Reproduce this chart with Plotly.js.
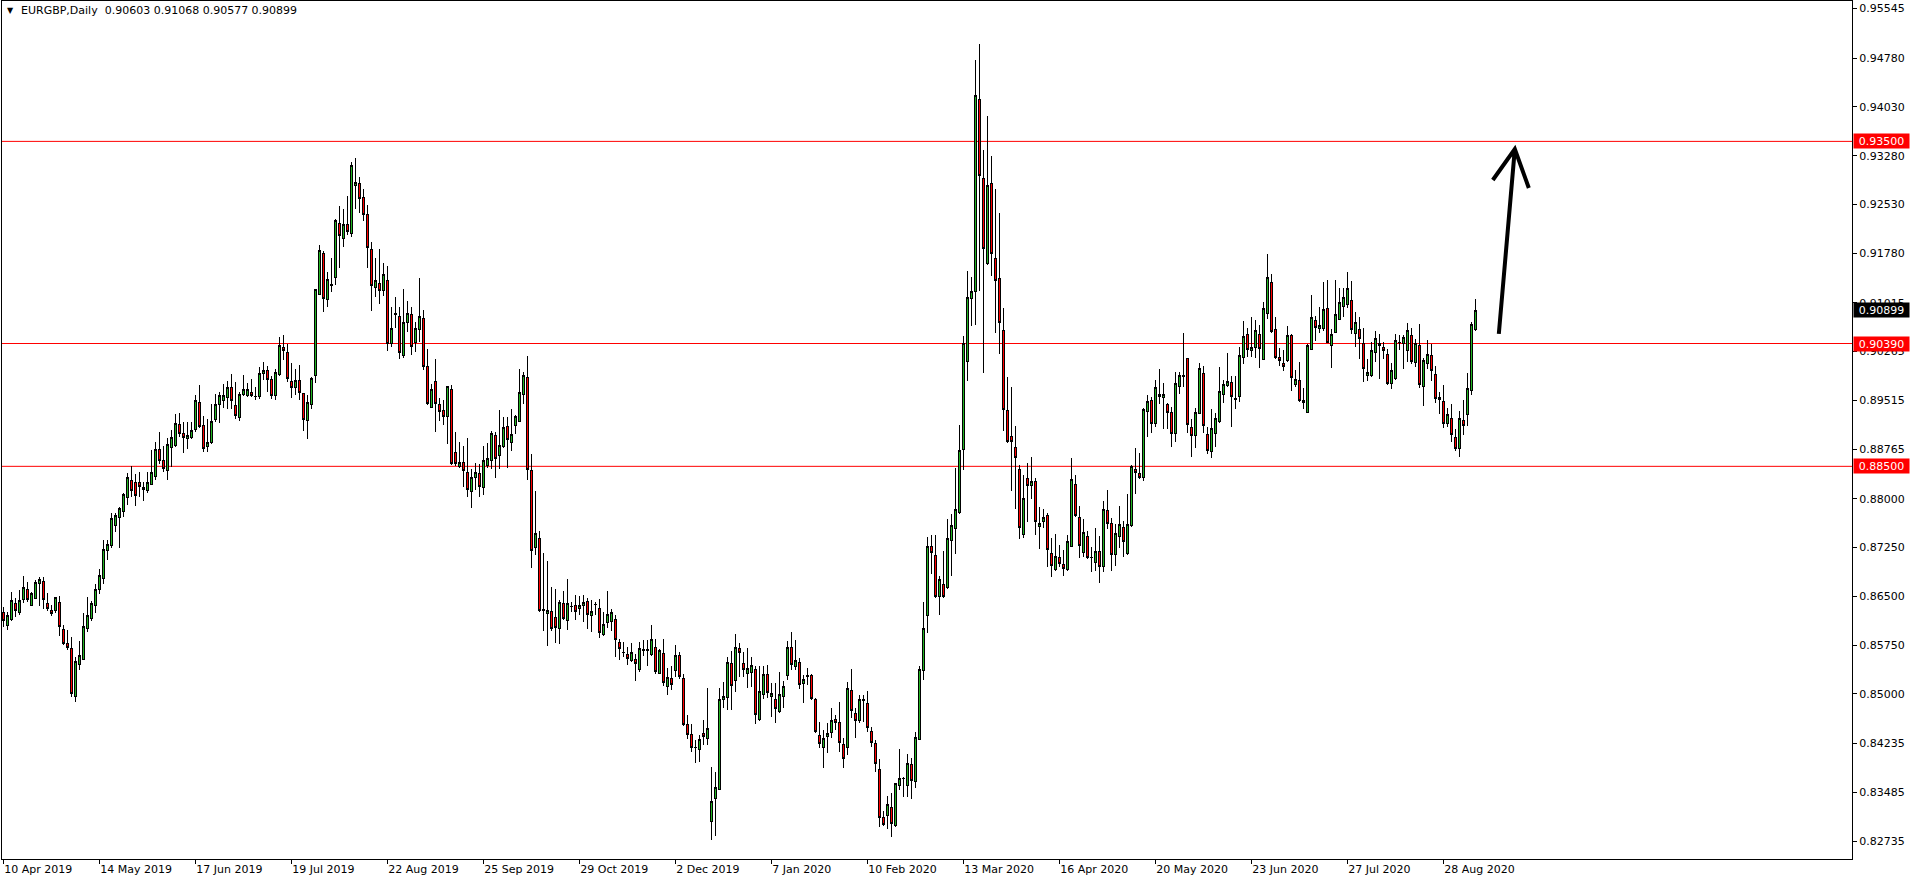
<!DOCTYPE html>
<html>
<head>
<meta charset="utf-8">
<script src="https://cdn.plot.ly/plotly-3.0.1.min.js"></script>
<style>
html,body{margin:0;padding:0;background:#fff;}
#chart{width:1916px;height:884px;}
#chart .boxlayer path{shape-rendering:crispEdges;}
#chart .xlines-above, #chart .ylines-above{shape-rendering:crispEdges;}
</style>
</head>
<body>
<div id="chart"></div>
<script>
// ---- Data (EURGBP daily) ----
const open = [
0.86248,0.86058,0.86146,0.86392,0.86248,0.86453,0.86607,0.86366,0.86469,0.86700,
0.86725,0.86392,0.86289,0.86279,0.86407,0.85992,0.85776,0.85699,0.84955,0.85453,
0.85530,0.86007,0.86161,0.86366,0.86607,0.86777,0.87202,0.87279,0.87597,0.87715,
0.87803,0.88023,0.88280,0.88254,0.88254,0.88177,0.88126,0.88228,0.88341,0.88752,
0.88587,0.88434,0.88793,0.88813,0.89147,0.89008,0.88931,0.88947,0.89070,0.89485,
0.89136,0.88802,0.88864,0.89223,0.89454,0.89510,0.89562,0.89716,0.89433,0.89254,
0.89608,0.89587,0.89638,0.89575,0.89572,0.89926,0.89967,0.89839,0.89597,0.89915,
0.90331,0.90254,0.89813,0.89716,0.89828,0.89623,0.89202,0.89444,0.89895,0.91147,
0.91778,0.91070,0.91280,0.91403,0.92239,0.92009,0.92224,0.92086,0.92819,0.92855,
0.92640,0.92378,0.91844,0.91249,0.91316,0.91203,0.91352,0.90393,0.90845,0.90813,
0.90203,0.90716,0.90830,0.90400,0.90600,0.90780,0.90034,0.89408,0.89803,0.89454,
0.89356,0.89264,0.89685,0.88715,0.88495,0.88561,0.88407,0.88110,0.88330,0.88392,
0.88171,0.88520,0.88587,0.88967,0.88664,0.88802,0.89120,0.88869,0.89126,0.89197,
0.89608,0.89869,0.88443,0.87248,0.87392,0.86295,0.86237,0.86263,0.86171,0.86007,
0.86391,0.86135,0.86340,0.86355,0.86314,0.86355,0.86417,0.86212,0.86378,0.86314,
0.85914,0.86099,0.86110,0.86136,0.85792,0.85635,0.85608,0.85520,0.85531,0.85377,
0.85672,0.85674,0.85608,0.85715,0.85315,0.85623,0.85120,0.85238,0.85351,0.85587,
0.85238,0.84520,0.84376,0.84178,0.84146,0.84382,0.84315,0.83032,0.83391,0.83535,
0.84905,0.84941,0.85459,0.85202,0.85700,0.85469,0.85315,0.85331,0.85367,0.84597,
0.84992,0.85300,0.84956,0.84915,0.84725,0.84956,0.85279,0.85710,0.85418,0.85485,
0.85161,0.85272,0.85279,0.84915,0.84366,0.84176,0.84341,0.84407,0.84607,0.84561,
0.84223,0.84176,0.85049,0.84700,0.84587,0.84915,0.84854,0.84418,0.84238,0.83838,
0.83094,0.83120,0.83253,0.82981,0.83586,0.83701,0.83586,0.83915,0.83648,0.84300,
0.85356,0.86200,0.87272,0.87129,0.86494,0.86677,0.86637,0.87352,0.87550,0.87789,
0.88758,0.90108,0.91085,0.91189,0.94144,0.92929,0.91626,0.92849,0.91697,0.91387,
0.90593,0.89354,0.88957,0.88790,0.88446,0.87455,0.88310,0.88207,0.88260,0.87572,
0.87649,0.87751,0.87161,0.86905,0.87095,0.86997,0.86905,0.87264,0.88213,0.87715,
0.87177,0.87428,0.87097,0.87023,0.87197,0.86956,0.87828,0.87623,0.87146,0.87418,
0.87561,0.87161,0.87582,0.88444,0.88392,0.88331,0.89347,0.89518,0.89162,0.89608,
0.89562,0.89454,0.89331,0.89008,0.89736,0.89880,0.90157,0.89100,0.88972,0.89315,
0.89931,0.88997,0.88725,0.89008,0.89187,0.89608,0.89741,0.89792,0.89546,0.89572,
0.90177,0.90521,0.90290,0.90331,0.90531,0.90146,0.90854,0.91331,0.90598,0.90177,
0.90085,0.90126,0.90511,0.89752,0.89818,0.89485,0.89326,0.90300,0.90747,0.90624,
0.90624,0.90931,0.90352,0.90562,0.90767,0.90967,0.90993,0.91054,0.90547,0.90608,
0.90393,0.89905,0.89895,0.90254,0.90383,0.90331,0.90223,0.89777,0.89844,0.90410,
0.90393,0.90280,0.90506,0.90095,0.90352,0.89726,0.90085,0.90213,0.89916,0.89531,
0.89505,0.89162,0.89239,0.88946,0.88777,0.89203,0.89300,0.89664,0.90603
];
const high = [
0.86341,0.86264,0.86561,0.86469,0.86597,0.86813,0.86725,0.86561,0.86751,0.86802,
0.86792,0.86546,0.86366,0.86494,0.86505,0.86058,0.85981,0.85869,0.85571,0.85812,
0.86238,0.86484,0.86428,0.86684,0.86920,0.87367,0.87367,0.87787,0.87777,0.87869,
0.88085,0.88393,0.88506,0.88382,0.88408,0.88264,0.88408,0.88752,0.88870,0.89024,
0.88813,0.88931,0.89059,0.89306,0.89316,0.89188,0.89188,0.89188,0.89598,0.89751,
0.89274,0.89223,0.89459,0.89613,0.89638,0.89767,0.89813,0.89921,0.89792,0.89638,
0.89905,0.89777,0.89844,0.89726,0.90023,0.90100,0.90049,0.89895,0.89998,0.90485,
0.90521,0.90382,0.90084,0.89998,0.90059,0.89633,0.89598,0.89869,0.91230,0.91906,
0.91814,0.91496,0.91711,0.92306,0.92506,0.92455,0.92660,0.93188,0.93240,0.92947,
0.92768,0.92522,0.91957,0.91711,0.91844,0.91624,0.91583,0.90947,0.91111,0.90947,
0.91229,0.91050,0.90950,0.90720,0.91400,0.90900,0.90305,0.89762,0.90152,0.89546,
0.89521,0.89741,0.89751,0.89023,0.88879,0.88813,0.88931,0.88454,0.88546,0.88536,
0.88813,0.88854,0.89044,0.89023,0.89367,0.89254,0.89264,0.89382,0.89290,0.89998,
0.89957,0.90198,0.88690,0.88120,0.87510,0.87161,0.87043,0.86638,0.86612,0.86443,
0.86586,0.86766,0.86417,0.86519,0.86509,0.86519,0.86468,0.86443,0.86417,0.86458,
0.86263,0.86581,0.86300,0.86213,0.85844,0.85803,0.85726,0.85777,0.85608,0.85803,
0.85828,0.85828,0.86059,0.85844,0.85685,0.85844,0.85392,0.85428,0.85751,0.85638,
0.85300,0.84674,0.84535,0.84289,0.84366,0.84597,0.85095,0.83869,0.83802,0.85095,
0.85187,0.85562,0.85659,0.85921,0.85777,0.85638,0.85700,0.85572,0.85428,0.85428,
0.85433,0.85443,0.85161,0.85161,0.85331,0.85197,0.85813,0.85957,0.85828,0.85546,
0.85290,0.85392,0.85300,0.84931,0.84561,0.84443,0.84546,0.84777,0.84674,0.84869,
0.84315,0.85187,0.85382,0.84787,0.84982,0.84982,0.85043,0.84495,0.84289,0.83997,
0.83197,0.83433,0.83468,0.83630,0.84146,0.83725,0.84069,0.84007,0.84418,0.85428,
0.86415,0.87415,0.87447,0.87447,0.86820,0.87193,0.87694,0.87773,0.88480,0.89139,
0.90506,0.91499,0.91419,0.94756,0.95002,0.93373,0.93890,0.93270,0.92770,0.92396,
0.90943,0.89878,0.89719,0.89123,0.88525,0.88368,0.88545,0.88643,0.88326,0.87869,
0.87844,0.87787,0.87402,0.87459,0.87290,0.87213,0.87443,0.88634,0.88367,0.87890,
0.87690,0.87510,0.87264,0.87546,0.87428,0.87967,0.88136,0.87700,0.87608,0.87890,
0.87659,0.88074,0.88521,0.88787,0.88700,0.89393,0.89598,0.89572,0.89828,0.89998,
0.89778,0.89470,0.89418,0.89946,0.89946,0.90557,0.90172,0.89223,0.89392,0.90085,
0.90044,0.89110,0.89382,0.89315,0.90034,0.89828,0.90239,0.89895,0.89890,0.90341,
0.90741,0.90624,0.90803,0.90752,0.90675,0.91024,0.91768,0.91460,0.90793,0.90316,
0.90290,0.90660,0.90536,0.89982,0.90100,0.89700,0.90383,0.91137,0.90818,0.90957,
0.91342,0.91368,0.90608,0.91368,0.91249,0.91249,0.91485,0.91352,0.90870,0.90793,
0.90624,0.90152,0.90408,0.90588,0.90531,0.90418,0.90300,0.90095,0.90536,0.90521,
0.90521,0.90711,0.90624,0.90454,0.90685,0.90162,0.90444,0.90383,0.90044,0.89638,
0.89752,0.89393,0.89454,0.89074,0.89356,0.89521,0.89941,0.90716,0.91068
];
const low = [
0.86033,0.85981,0.86125,0.86176,0.86212,0.86392,0.86418,0.86351,0.86453,0.86356,
0.86305,0.86279,0.86202,0.86238,0.85894,0.85751,0.85674,0.84955,0.84879,0.85366,
0.85520,0.85956,0.86120,0.86238,0.86530,0.86684,0.87059,0.87238,0.87495,0.87238,
0.87726,0.87905,0.88033,0.87895,0.88023,0.87972,0.88085,0.88213,0.88290,0.88536,
0.88408,0.88290,0.88485,0.88793,0.88947,0.88711,0.88767,0.88916,0.89034,0.89095,
0.88725,0.88725,0.88843,0.89187,0.89161,0.89402,0.89377,0.89382,0.89228,0.89202,
0.89582,0.89572,0.89572,0.89520,0.89536,0.89828,0.89649,0.89536,0.89520,0.89895,
0.90136,0.89792,0.89556,0.89597,0.89520,0.89049,0.88915,0.89382,0.89787,0.91137,
0.90880,0.90957,0.91188,0.91290,0.91557,0.91880,0.92060,0.92034,0.92460,0.92404,
0.92280,0.91547,0.90895,0.91111,0.90998,0.91126,0.90280,0.90341,0.90623,0.90152,
0.90160,0.90560,0.90213,0.90254,0.90420,0.89980,0.89444,0.89392,0.89033,0.89203,
0.89136,0.88843,0.88520,0.88510,0.88469,0.88187,0.88033,0.87864,0.88136,0.88023,
0.88059,0.88469,0.88459,0.88315,0.88459,0.88787,0.88469,0.88736,0.88997,0.89177,
0.89459,0.88289,0.86940,0.87135,0.86253,0.85971,0.85740,0.85971,0.85776,0.85766,
0.86135,0.85981,0.86263,0.86135,0.86212,0.86099,0.85991,0.85945,0.86212,0.85853,
0.85894,0.86017,0.85972,0.85572,0.85520,0.85572,0.85443,0.85495,0.85202,0.85341,
0.85587,0.85433,0.85587,0.85300,0.85300,0.85125,0.84982,0.85059,0.85264,0.85228,
0.84510,0.84300,0.84099,0.83930,0.83956,0.84212,0.84212,0.82750,0.82807,0.83520,
0.84777,0.84751,0.84751,0.85033,0.85264,0.85264,0.85084,0.85110,0.84530,0.84582,
0.84920,0.84931,0.84648,0.84546,0.84700,0.84787,0.85213,0.85367,0.85367,0.85074,
0.84864,0.85136,0.84905,0.84392,0.84161,0.83863,0.84084,0.84315,0.84443,0.84110,
0.83863,0.84059,0.84633,0.84325,0.84546,0.84572,0.84418,0.84187,0.83802,0.82955,
0.82966,0.82917,0.82802,0.82955,0.83520,0.83417,0.83417,0.83376,0.83556,0.84289,
0.85207,0.85938,0.86836,0.86478,0.86216,0.86478,0.86613,0.86812,0.87153,0.87773,
0.88440,0.89815,0.90664,0.90672,0.91205,0.89934,0.91600,0.91427,0.90545,0.90236,
0.89036,0.88861,0.88116,0.87848,0.87385,0.87397,0.87640,0.88004,0.87449,0.87228,
0.87546,0.86948,0.86802,0.86894,0.86956,0.86817,0.86894,0.87254,0.87726,0.87084,
0.87110,0.87074,0.86879,0.86894,0.86700,0.86869,0.87536,0.86894,0.86971,0.87238,
0.87110,0.87136,0.87572,0.88069,0.88305,0.88280,0.88944,0.89020,0.89098,0.89454,
0.89080,0.89080,0.88803,0.88879,0.89613,0.89726,0.89018,0.88649,0.88787,0.89305,
0.89008,0.88690,0.88633,0.88802,0.89172,0.89480,0.89716,0.89110,0.89377,0.89495,
0.90075,0.90177,0.90177,0.90162,0.90008,0.90140,0.90767,0.90547,0.90146,0.90049,
0.89967,0.90111,0.89664,0.89726,0.89495,0.89382,0.89315,0.90290,0.90429,0.90547,
0.90588,0.90393,0.90008,0.90547,0.90752,0.90803,0.90931,0.90531,0.90341,0.90152,
0.89803,0.89818,0.89870,0.90110,0.89839,0.90146,0.89752,0.89685,0.89829,0.90290,
0.89998,0.90110,0.90075,0.90034,0.89700,0.89433,0.89993,0.89818,0.89469,0.89300,
0.89085,0.89110,0.88879,0.88741,0.88649,0.88982,0.89126,0.89598,0.90577
];
const close = [
0.86135,0.86212,0.86433,0.86279,0.86433,0.86638,0.86453,0.86536,0.86715,0.86761,
0.86453,0.86315,0.86228,0.86484,0.86033,0.85776,0.85715,0.85007,0.85504,0.85597,
0.86043,0.86212,0.86382,0.86607,0.86813,0.87228,0.87300,0.87700,0.87751,0.87844,
0.88059,0.88331,0.88126,0.88049,0.88187,0.88146,0.88254,0.88408,0.88762,0.88587,
0.88470,0.88829,0.88947,0.89162,0.89008,0.88947,0.88967,0.89044,0.89506,0.89120,
0.88777,0.88869,0.89187,0.89454,0.89587,0.89587,0.89716,0.89510,0.89279,0.89608,
0.89685,0.89685,0.89587,0.89580,0.89931,0.89967,0.89839,0.89587,0.89946,0.90352,
0.90280,0.89844,0.89710,0.89828,0.89633,0.89223,0.89485,0.89854,0.91224,0.91814,
0.91085,0.91378,0.91301,0.92275,0.92050,0.92224,0.92111,0.93122,0.92870,0.92624,
0.92378,0.91865,0.91280,0.91367,0.91203,0.91455,0.90393,0.90623,0.90835,0.90254,
0.90716,0.90850,0.90341,0.90620,0.90800,0.90034,0.89469,0.89685,0.89469,0.89351,
0.89264,0.89726,0.88546,0.88536,0.88561,0.88433,0.88146,0.88330,0.88407,0.88187,
0.88597,0.88613,0.89008,0.88613,0.88828,0.89100,0.88915,0.88992,0.89264,0.89639,
0.89890,0.88454,0.87202,0.87469,0.86278,0.86285,0.86289,0.86007,0.86017,0.86407,
0.86160,0.86391,0.86338,0.86263,0.86355,0.86407,0.86222,0.86263,0.86374,0.85945,
0.86068,0.86222,0.86245,0.85839,0.85700,0.85631,0.85546,0.85638,0.85469,0.85690,
0.85676,0.85659,0.85839,0.85341,0.85659,0.85172,0.85254,0.85146,0.85587,0.85264,
0.84530,0.84376,0.84176,0.84174,0.84300,0.84341,0.84469,0.83350,0.83561,0.84915,
0.84966,0.85485,0.85125,0.85715,0.85638,0.85377,0.85392,0.85428,0.84674,0.85043,
0.85290,0.85023,0.84997,0.84777,0.84982,0.85120,0.85715,0.85454,0.85505,0.85146,
0.85223,0.85276,0.84920,0.84418,0.84238,0.84315,0.84382,0.84587,0.84561,0.84253,
0.84007,0.85084,0.84741,0.84587,0.84915,0.84895,0.84484,0.84253,0.83920,0.83099,
0.82991,0.83299,0.83007,0.83622,0.83699,0.83697,0.83930,0.83663,0.84330,0.85367,
0.86008,0.87272,0.87169,0.86502,0.86756,0.86502,0.87392,0.87590,0.87829,0.88742,
0.90387,0.91101,0.91189,0.94208,0.92968,0.91856,0.92817,0.91777,0.91364,0.90712,
0.89378,0.88885,0.88883,0.88640,0.87565,0.88010,0.88207,0.88260,0.87652,0.87623,
0.87715,0.87213,0.86971,0.87120,0.87007,0.86930,0.87351,0.88305,0.87741,0.87279,
0.87484,0.87095,0.87093,0.87197,0.86956,0.87838,0.87623,0.87146,0.87469,0.87608,
0.87351,0.87608,0.88495,0.88408,0.88331,0.89367,0.89500,0.89162,0.89716,0.89572,
0.89598,0.89331,0.89008,0.89777,0.89890,0.89905,0.89146,0.88972,0.89331,0.89998,
0.89126,0.88751,0.89085,0.89238,0.89659,0.89752,0.89813,0.89572,0.89531,0.90198,
0.90505,0.90300,0.90326,0.90583,0.90316,0.90931,0.91408,0.90572,0.90172,0.90126,
0.90034,0.90511,0.89870,0.89839,0.89510,0.89516,0.90352,0.90793,0.90634,0.90660,
0.90916,0.90403,0.90531,0.90839,0.91024,0.91101,0.91239,0.90608,0.90716,0.90470,
0.90008,0.89946,0.90280,0.90470,0.90352,0.90280,0.89767,0.89967,0.90429,0.90406,
0.90485,0.90583,0.90111,0.90383,0.89762,0.90126,0.90223,0.89982,0.89546,0.89562,
0.89162,0.89300,0.88992,0.88777,0.89239,0.89126,0.89700,0.90685,0.90899
];

// date tick labels (one every 24 daily bars)
const dateLabels = ['10 Apr 2019','14 May 2019','17 Jun 2019','19 Jul 2019','22 Aug 2019','25 Sep 2019','29 Oct 2019','2 Dec 2019','7 Jan 2020','10 Feb 2020','13 Mar 2020','16 Apr 2020','20 May 2020','23 Jun 2020','27 Jul 2020','28 Aug 2020'];
const dateBars = [0,24,48,72,96,120,144,168,192,216,240,264,288,312,336,360];

// price scale labels
const priceTicks = [0.95545,0.94780,0.94030,0.93280,0.92530,0.91780,0.91015,0.90265,0.89515,0.88765,0.88000,0.87250,0.86500,0.85750,0.85000,0.84235,0.83485,0.82735];
const priceTickText = ['0.95545','0.94780','0.94030','0.93280','0.92530','0.91780','0.91015','0.90265','0.89515','0.88765','0.88000','0.87250','0.86500','0.85750','0.85000','0.84235','0.83485','0.82735'];

// horizontal levels
const levels = [0.93500, 0.90390, 0.88500];
const levelText = ['0.93500','0.90390','0.88500'];
const levelColors = ['#ff0000','#ff0000','#ff0000'];
const lastPrice = 0.90899;
const lastPriceText = '0.90899';

// title
const symbolTitle = 'EURGBP,Daily';
const lastBarOHLC = ['0.90603','0.91068','0.90577','0.90899'];

// arrow (bar index, price)
const arrowTail = [373.9, 0.90537];
const arrowTip = [377.9, 0.93383];
const arrowLeft = [372.4, 0.92906];
const arrowRight = [381.4, 0.92783];

// ---- Build chart ----
const n = Math.min(open.length, high.length, low.length, close.length);
const xs = [];
for (let i = 0; i < n; i++) xs.push(i);

const FONT = 'DejaVu Sans, Verdana, sans-serif';

const trace = {
  type: 'candlestick',
  x: xs,
  open: open.slice(0, n), high: high.slice(0, n), low: low.slice(0, n), close: close.slice(0, n),
  increasing: {line: {color: '#000000', width: 1}, fillcolor: '#22b422'},
  decreasing: {line: {color: '#000000', width: 1}, fillcolor: '#ff0000'},
  whiskerwidth: 0,
  hoverinfo: 'skip',
  showlegend: false
};

const shapes = levels.map((v, i) => ({
  type: 'line', xref: 'paper', x0: 0, x1: 1, yref: 'y', y0: v, y1: v,
  line: {color: levelColors[i], width: 1}, layer: 'below'
}));
shapes.push({
  type: 'path', xref: 'x', yref: 'y',
  path: 'M' + arrowTail[0] + ',' + arrowTail[1] + ' L' + arrowTip[0] + ',' + arrowTip[1] +
        ' M' + arrowLeft[0] + ',' + arrowLeft[1] + ' L' + arrowTip[0] + ',' + arrowTip[1] +
        ' L' + arrowRight[0] + ',' + arrowRight[1],
  line: {color: '#000000', width: 4}
});

const annotations = [];
annotations.push({
  xref: 'paper', yref: 'paper', x: 0, y: 1, xanchor: 'left', yanchor: 'top',
  xshift: 3, yshift: -3, showarrow: false, text: '\u25BC',
  font: {family: FONT, size: 8, color: '#000'}
});
annotations.push({
  xref: 'paper', yref: 'paper', x: 0, y: 1, xanchor: 'left', yanchor: 'top',
  xshift: 17, yshift: -1, showarrow: false,
  text: symbolTitle + '\u00a0\u00a0' + lastBarOHLC.join(' '),
  font: {family: FONT, size: 11, color: '#000'}
});
levels.forEach((v, i) => {
  annotations.push({
    xref: 'paper', yref: 'y', x: 1, y: v, xanchor: 'left', yanchor: 'middle',
    xshift: 1, showarrow: false, text: levelText[i],
    bgcolor: levelColors[i], borderpad: 1, width: 53, height: 12, align: 'center',
    font: {family: FONT, size: 11, color: '#ffffff'}
  });
});
annotations.push({
  xref: 'paper', yref: 'y', x: 1, y: lastPrice, xanchor: 'left', yanchor: 'middle',
  xshift: 1, showarrow: false, text: lastPriceText,
  bgcolor: '#000000', borderpad: 1, width: 53, height: 12, align: 'center',
  font: {family: FONT, size: 11, color: '#ffffff'}
});

const layout = {
  width: 1916, height: 884,
  margin: {l: 2, r: 64, t: 1, b: 25, pad: 0},
  paper_bgcolor: '#ffffff', plot_bgcolor: '#ffffff',
  showlegend: false,
  boxgap: 0.25,
  xaxis: {
    type: 'linear', range: [-0.33, 462.2],
    showgrid: false, zeroline: false,
    showline: true, mirror: true, linecolor: '#000', linewidth: 1,
    ticks: 'outside', ticklen: 4, tickcolor: '#000', tickwidth: 1,
    tickvals: dateBars, ticktext: dateLabels,
    ticklabelposition: 'outside right',
    tickfont: {family: FONT, size: 11, color: '#000'},
    rangeslider: {visible: false}, fixedrange: true
  },
  yaxis: {
    side: 'right', range: [0.82458, 0.95660],
    showgrid: false, zeroline: false,
    showline: true, mirror: true, linecolor: '#000', linewidth: 1,
    ticks: 'outside', ticklen: 4, tickcolor: '#000', tickwidth: 1,
    tickvals: priceTicks, ticktext: priceTickText,
    tickfont: {family: FONT, size: 11, color: '#000'},
    fixedrange: true
  },
  shapes: shapes,
  annotations: annotations
};

Plotly.newPlot('chart', [trace], layout, {staticPlot: true, displayModeBar: false});
</script>
</body>
</html>
